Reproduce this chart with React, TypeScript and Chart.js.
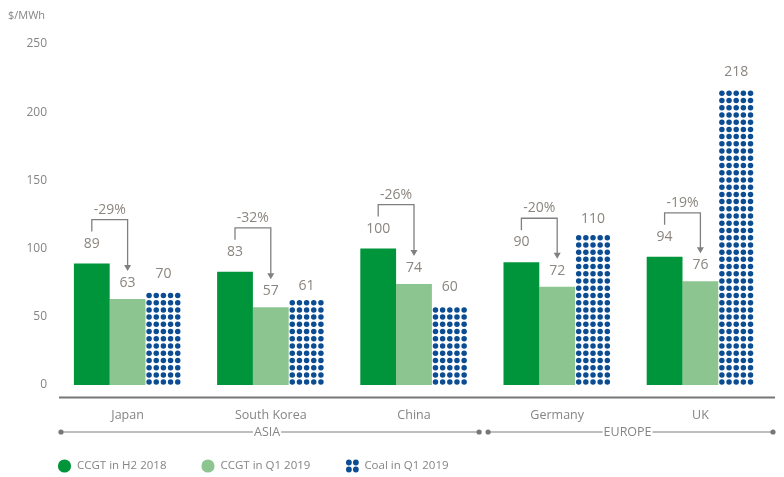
import React, { useEffect, useRef } from "react";
import { Chart, registerables } from "chart.js";

Chart.register(...registerables);

const categories = ["Japan", "South Korea", "China", "Germany", "UK"];
const ccgtH2 = [89, 83, 100, 90, 94];
const ccgtQ1 = [63, 57, 74, 72, 76];
const coalQ1 = [70, 61, 60, 110, 218];
const changeLabels = ["-29%", "-32%", "-26%", "-20%", "-19%"];
const seriesLabels = ["CCGT in H2 2018", "CCGT in Q1 2019", "Coal in Q1 2019"];
const regionNames = ["ASIA", "EUROPE"];
const regionFirst = [0, 3];
const regionLast = [2, 4];
const yMin = 0;
const yMax = 250;
const yStep = 50;
const unitLabel = "$/MWh";

const DARK = "#00953a";
const LIGHT = "#8dc591";
const BLUE = "#0b4c93";
const TEXT = "#858585";
const VALUE_TEXT = "#8b857f";
const FONT = "'Open Sans', 'Noto Sans', sans-serif";

function drawDotIcon(ctx: CanvasRenderingContext2D, cx: number, cy: number) {
  ctx.fillStyle = BLUE;
  for (const ox of [-3.5, 3.5]) {
    for (const oy of [-3.5, 3.5]) {
      ctx.beginPath();
      ctx.arc(cx + ox, cy + oy, 2.9, 0, Math.PI * 2);
      ctx.fill();
    }
  }
}

const decorPlugin = {
  id: "decor",
  afterDatasetsDraw(chart: any) {
    const ctx: CanvasRenderingContext2D = chart.ctx;
    const area = chart.chartArea;
    const xs = chart.scales.x;
    const m0 = chart.getDatasetMeta(0);
    const m1 = chart.getDatasetMeta(1);
    const m2 = chart.getDatasetMeta(2);
    ctx.save();

    // dotted coal bars
    m2.data.forEach((el: any) => {
      const w = el.width;
      const left = el.x - w / 2;
      const cols = 5;
      const dx = w / cols;
      const dy = 7.22;
      const rows = Math.round((el.base - el.y) / dy);
      ctx.fillStyle = BLUE;
      for (let r = 0; r < rows; r++) {
        const cy = el.base - 2.9 - r * dy;
        for (let c = 0; c < cols; c++) {
          const cx = left + dx / 2 + c * dx;
          ctx.beginPath();
          ctx.arc(cx, cy, 2.75, 0, Math.PI * 2);
          ctx.fill();
        }
      }
    });

    // value labels
    ctx.font = `14px ${FONT}`;
    ctx.fillStyle = VALUE_TEXT;
    ctx.textAlign = "center";
    ctx.textBaseline = "middle";
    const metas = [m0, m1, m2];
    const values = [ccgtH2, ccgtQ1, coalQ1];
    metas.forEach((meta: any, di: number) => {
      meta.data.forEach((el: any, i: number) => {
        const off = di === 0 ? 20 : 16;
        ctx.fillText(String(values[di][i]), el.x, el.y - off);
      });
    });

    // change brackets
    m0.data.forEach((el: any, i: number) => {
      const el1 = m1.data[i];
      const darkLabelY = el.y - 20;
      const lightLabelY = el1.y - 16;
      const top = darkLabelY - 24;
      const x0 = el.x;
      const x1 = el1.x;
      const tip = lightLabelY - 12;
      ctx.strokeStyle = "#808080";
      ctx.lineWidth = 1.3;
      ctx.beginPath();
      ctx.moveTo(x0, darkLabelY - 12);
      ctx.lineTo(x0, top);
      ctx.lineTo(x1, top);
      ctx.lineTo(x1, tip - 5);
      ctx.stroke();
      ctx.fillStyle = "#808080";
      ctx.beginPath();
      ctx.moveTo(x1 - 3.5, tip - 6);
      ctx.lineTo(x1 + 3.5, tip - 6);
      ctx.lineTo(x1, tip);
      ctx.closePath();
      ctx.fill();
      ctx.font = `14px ${FONT}`;
      ctx.fillStyle = VALUE_TEXT;
      ctx.fillText(changeLabels[i], (x0 + x1) / 2, top - 10);
    });

    // x axis line
    const axisY = area.bottom + 12.5;
    const axisL = area.left + 3;
    const axisR = area.right + 3;
    ctx.strokeStyle = "#777";
    ctx.lineWidth = 2;
    ctx.beginPath();
    ctx.moveTo(axisL, axisY);
    ctx.lineTo(axisR, axisY);
    ctx.stroke();

    // region lines
    const catW = (area.right - area.left) / categories.length;
    const gy = area.bottom + 47;
    regionNames.forEach((name, ri) => {
      const fi = regionFirst[ri];
      const li = regionLast[ri];
      const leftEdge = xs.getPixelForValue(fi) - catW / 2;
      const rightEdge = xs.getPixelForValue(li) + catW / 2;
      const x1 = ri === 0 ? axisL + 2 : leftEdge - 2 + 4.5;
      const x2 = ri === regionNames.length - 1 ? axisR - 2 : rightEdge - 2 - 4.5;
      ctx.strokeStyle = "#a8a8a8";
      ctx.lineWidth = 1.5;
      ctx.beginPath();
      ctx.moveTo(x1, gy);
      ctx.lineTo(x2, gy);
      ctx.stroke();
      ctx.fillStyle = "#777";
      for (const px of [x1, x2]) {
        ctx.beginPath();
        ctx.arc(px, gy, 2.6, 0, Math.PI * 2);
        ctx.fill();
      }
      ctx.font = `12.5px ${FONT}`;
      const cx = (x1 + x2) / 2 - 3;
      const tw = ctx.measureText(name).width;
      ctx.fillStyle = "#fff";
      ctx.fillRect(cx - tw / 2 - 1, gy - 8, tw + 2, 16);
      ctx.fillStyle = TEXT;
      ctx.textAlign = "center";
      ctx.fillText(name, cx, gy);
    });

    // legend
    const ly = 466;
    let lx = 58;
    ctx.font = `11.5px ${FONT}`;
    ctx.textAlign = "left";
    ctx.textBaseline = "middle";
    seriesLabels.forEach((lab, si) => {
      if (si === 2) {
        drawDotIcon(ctx, lx + 7, ly);
      } else {
        ctx.fillStyle = si === 0 ? DARK : LIGHT;
        ctx.beginPath();
        ctx.arc(lx + 6.5, ly, 6.6, 0, Math.PI * 2);
        ctx.fill();
      }
      ctx.fillStyle = TEXT;
      const tx = lx + 19;
      ctx.fillText(lab, tx, ly);
      lx = tx + ctx.measureText(lab).width + 35;
    });

    // unit label
    ctx.font = `11px ${FONT}`;
    ctx.fillStyle = TEXT;
    ctx.textAlign = "left";
    ctx.fillText(unitLabel, 8, 16);

    ctx.restore();
  },
};

export default function App() {
  const ref = useRef<HTMLCanvasElement | null>(null);
  useEffect(() => {
    document.body.style.margin = "0";
    const canvas = ref.current;
    if (!canvas) return;
    const chart = new Chart(canvas, {
      type: "bar",
      data: {
        labels: categories,
        datasets: [
          { label: seriesLabels[0], data: ccgtH2, backgroundColor: DARK },
          { label: seriesLabels[1], data: ccgtQ1, backgroundColor: LIGHT },
          { label: seriesLabels[2], data: coalQ1, backgroundColor: "rgba(0,0,0,0)" },
        ],
      },
      options: {
        responsive: false,
        animation: false,
        devicePixelRatio: 1,
        datasets: { bar: { categoryPercentage: 0.75, barPercentage: 1, borderWidth: 0 } },
        layout: { padding: { top: 44, right: 12, bottom: 0, left: 0 } },
        plugins: { legend: { display: false }, tooltip: { enabled: false } },
        scales: {
          x: {
            grid: { display: false, drawTicks: false },
            border: { display: false },
            ticks: { color: TEXT, font: { family: FONT, size: 12.5 }, padding: 23 },
            afterFit: (s: any) => {
              s.height = 92;
            },
          },
          y: {
            min: yMin,
            max: yMax,
            grid: { display: false, drawTicks: false },
            border: { display: false },
            ticks: { stepSize: yStep, color: TEXT, font: { family: FONT, size: 12 }, padding: 9 },
            afterFit: (s: any) => {
              s.width = 56;
            },
          },
        },
      },
      plugins: [decorPlugin],
    } as any);
    return () => chart.destroy();
  }, []);
  return <canvas ref={ref} width={784} height={477} style={{ display: "block" }} />;
}
